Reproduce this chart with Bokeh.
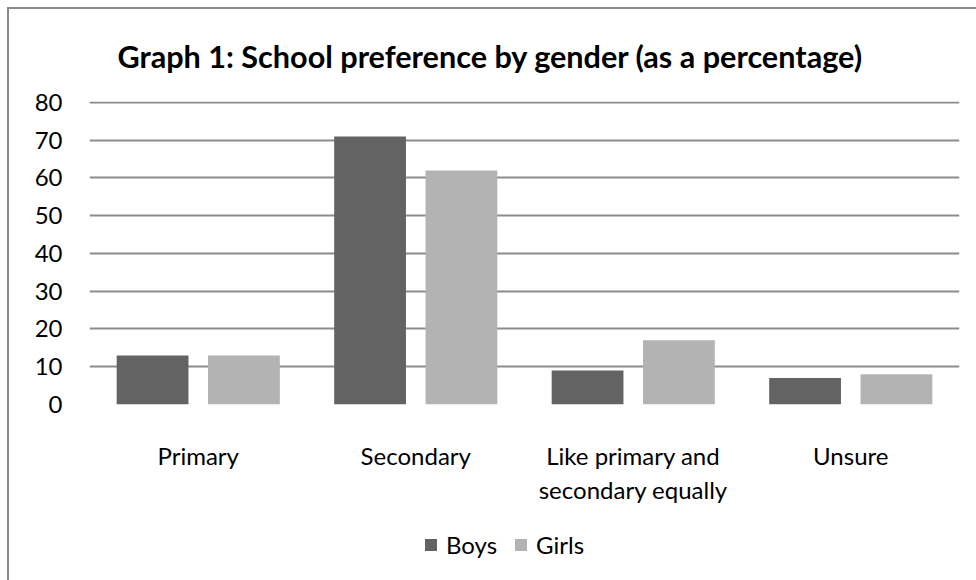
from bokeh.plotting import figure
from bokeh.layouts import column
from bokeh.models import (ColumnDataSource, FactorRange, Legend, LegendItem, Title,
                          SingleIntervalTicker, Range1d)
from bokeh.transform import dodge
from bokeh.embed import file_html
from bokeh.resources import INLINE

categories = ["Primary", "Secondary", "Like primary and\nsecondary equally", "Unsure"]
boys = [13, 71, 9, 7]
girls = [13, 62, 17, 8]
series_names = ["Boys", "Girls"]
title_text = "Graph 1: School preference by gender (as a percentage)"

FONT = "Lato"
GRID = "#8c8c8c"
DARK = "#636363"
LIGHT = "#b3b3b3"

src = ColumnDataSource(dict(cat=categories, boys=boys, girls=girls))

p = figure(x_range=FactorRange(*categories), y_range=Range1d(0, 80.25),
           frame_width=870, frame_height=303, output_backend="svg", toolbar_location=None,
           min_border_left=80, min_border_right=17, min_border_top=92, min_border_bottom=120)

p.vbar(x=dodge("cat", -0.21, range=p.x_range), top="boys", width=0.33, source=src,
       fill_color=DARK, line_color=None)
p.vbar(x=dodge("cat", 0.21, range=p.x_range), top="girls", width=0.33, source=src,
       fill_color=LIGHT, line_color=None)

t = Title(text=title_text, align="left", text_font=FONT, text_font_style="bold",
          text_font_size="30.6px", text_color="#000000", offset=28, standoff=53)
p.add_layout(t, "above")

p.outline_line_color = None
p.background_fill_color = "white"
p.border_fill_color = "white"

p.xgrid.grid_line_color = None
p.ygrid.grid_line_color = GRID
p.ygrid.grid_line_width = 2
p.yaxis.ticker = SingleIntervalTicker(interval=10)
p.yaxis.axis_line_color = None
p.yaxis.major_tick_line_color = None
p.yaxis.minor_tick_line_color = None
p.yaxis.major_label_text_font = FONT
p.yaxis.major_label_text_font_size = "24px"
p.yaxis.major_label_text_color = "#000000"
p.yaxis.major_label_standoff = 21

p.xaxis.axis_line_color = None
p.xaxis.major_tick_line_color = None
p.xaxis.major_label_text_font = FONT
p.xaxis.major_label_text_font_size = "24px"
p.xaxis.major_label_text_color = "#000000"
p.xaxis.major_label_standoff = 30
p.xaxis.major_label_orientation = "horizontal"

# legend strip below the chart (same series, drawn outside this strip's visible range)
lf = figure(width=967, height=60, x_range=FactorRange(*categories), y_range=Range1d(100, 101),
            output_backend="svg", toolbar_location=None, x_axis_type=None, y_axis_type=None,
            min_border=0)
lf.outline_line_color = None
lf.xgrid.grid_line_color = None
lf.ygrid.grid_line_color = None
lf.border_fill_color = "white"
lf.background_fill_color = "white"
r1 = lf.vbar(x=dodge("cat", -0.21, range=lf.x_range), top="boys", width=0.33, source=src,
             fill_color=DARK, line_color=None)
r2 = lf.vbar(x=dodge("cat", 0.21, range=lf.x_range), top="girls", width=0.33, source=src,
             fill_color=LIGHT, line_color=None)
legend = Legend(items=[LegendItem(label=series_names[0], renderers=[r1]),
                       LegendItem(label=series_names[1], renderers=[r2])],
                orientation="horizontal", location=(334, 25),
                label_text_font=FONT, label_text_font_size="24px", label_text_color="#000000",
                glyph_width=15, glyph_height=15, spacing=16, label_standoff=8,
                border_line_color=None, background_fill_alpha=0, padding=0, margin=0)
lf.add_layout(legend, "center")

layout = column(p, lf, spacing=0)
layout.margin = (7, 0, 0, 7)
layout.styles = {"border-top": "2px solid #8a8a8a", "border-left": "2px solid #8a8a8a"}

open("out.html", "w").write(file_html(layout, INLINE))
